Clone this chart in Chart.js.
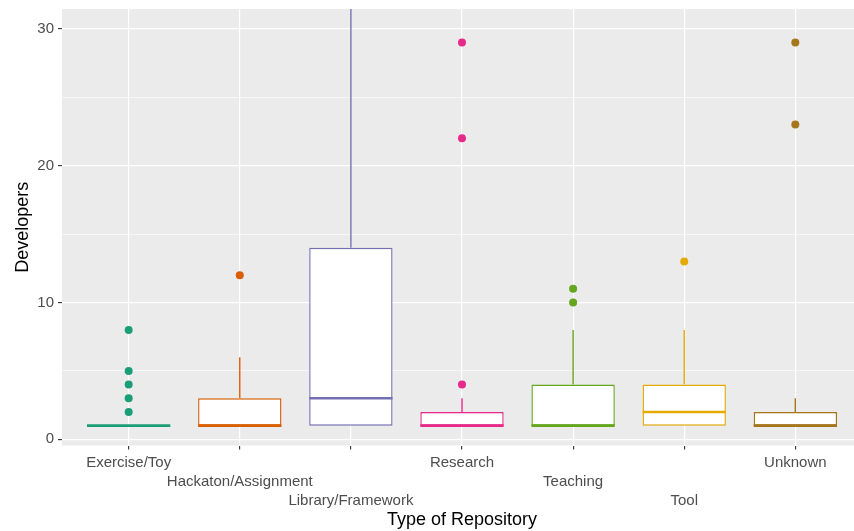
<!DOCTYPE html>
<html>
<head>
<meta charset="utf-8">
<title>Developers by Type of Repository</title>
<script src="https://cdn.jsdelivr.net/npm/chart.js@4.4.1/dist/chart.umd.min.js"></script>
<style>
  html, body { margin: 0; padding: 0; background: #ffffff; overflow: hidden; width: 854px; height: 531px; }
  /* the panel runs a little past the right edge of the page, as in the printed figure */
  #wrap { width: 866px; height: 531px; position: relative; }
</style>
</head>
<body>
<div id="wrap"><canvas id="chart"></canvas></div>
<script>
// ---- data -------------------------------------------------------------
const categories = ['Exercise/Toy', 'Hackaton/Assignment', 'Library/Framework', 'Research', 'Teaching', 'Tool', 'Unknown'];
const lowerWhisker = [1, 1, 1, 1, 1, 1, 1];
const q1           = [1, 1, 1, 1, 1, 1, 1];
const median       = [1, 1, 3, 1, 1, 2, 1];
const q3           = [1, 3, 14, 2, 4, 4, 2];
const upperWhisker = [1, 6, 33, 3, 8, 8, 3];
const outliers     = [[2, 3, 4, 5, 8], [12], [], [4, 22, 29], [10, 11], [13], [23, 29]];
const yMajorTicks  = [0, 10, 20, 30];
const yMinorTicks  = [5, 15, 25];

// ---- style ------------------------------------------------------------
const palette = ['#1B9E77', '#D95F02', '#7570B3', '#E7298A', '#66A61E', '#E6AB02', '#A6761D'];
const BOX_WIDTH = 0.75;          // in category units
const FONT = "'Liberation Sans', Arial, Helvetica, sans-serif";
const TEXT_GREY = '#4D4D4D';

// ---- datasets ---------------------------------------------------------
const datasets = [];

// outlying points (drawn on top)
const outlierPoints = [];
const outlierColors = [];
categories.forEach((c, i) => {
  outliers[i].forEach(v => { outlierPoints.push({ x: i + 1, y: v }); outlierColors.push(palette[i]); });
});
datasets.push({
  type: 'scatter',
  data: outlierPoints,
  pointBackgroundColor: outlierColors,
  pointBorderWidth: 0,
  pointRadius: 4,
  order: 0
});

// median bars
categories.forEach((c, i) => {
  datasets.push({
    type: 'line',
    data: [{ x: i + 1 - BOX_WIDTH / 2, y: median[i] }, { x: i + 1 + BOX_WIDTH / 2, y: median[i] }],
    borderColor: palette[i],
    borderWidth: 2.6,
    borderCapStyle: 'butt',
    pointRadius: 0,
    fill: false,
    order: 1
  });
});

// boxes from first to third quartile
datasets.push({
  type: 'bar',
  data: categories.map((c, i) => ({ x: i + 1, y: [q1[i], q3[i]] })),
  backgroundColor: '#ffffff',
  borderColor: palette,
  borderWidth: 1.4,
  borderSkipped: false,
  barPercentage: BOX_WIDTH,
  categoryPercentage: 1,
  grouped: false,
  order: 2
});

// whiskers
categories.forEach((c, i) => {
  datasets.push({
    type: 'line',
    data: [
      { x: i + 1, y: lowerWhisker[i] }, { x: i + 1, y: q1[i] },
      { x: i + 1, y: null },
      { x: i + 1, y: q3[i] }, { x: i + 1, y: upperWhisker[i] }
    ],
    spanGaps: false,
    borderColor: palette[i],
    borderWidth: 1.4,
    pointRadius: 0,
    fill: false,
    order: 3
  });
});

// grey panel behind the plot
const panelBackground = {
  id: 'panelBackground',
  beforeDraw(chart) {
    const { ctx, chartArea: a } = chart;
    ctx.save();
    ctx.fillStyle = '#EBEBEB';
    ctx.fillRect(a.left, a.top, a.right - a.left, a.bottom - a.top);
    ctx.restore();
  }
};

// keep the plot panel exactly where the layout padding puts it
const noLabelPadding = s => { s.paddingTop = 0; s.paddingBottom = 0; s.paddingLeft = 0; s.paddingRight = 0; };

new Chart(document.getElementById('chart'), {
  type: 'bar',
  data: { datasets },
  plugins: [panelBackground],
  options: {
    responsive: true,
    maintainAspectRatio: false,
    devicePixelRatio: 1,
    animation: false,
    layout: { padding: { top: 9, left: 0, right: 0, bottom: 0 } },
    plugins: { legend: { display: false }, tooltip: { enabled: false } },
    scales: {
      x: {
        type: 'linear',
        min: 0.4,
        max: categories.length + 0.6,
        offset: false,
        afterBuildTicks: s => { s.ticks = categories.map((c, i) => ({ value: i + 1 })); },
        afterFit: s => { s.height = 85.5; noLabelPadding(s); },
        border: { display: false },
        grid: { offset: false, color: '#FFFFFF', lineWidth: 1.2, tickLength: 4, tickColor: '#333333', tickWidth: 1.1 },
        ticks: {
          autoSkip: false,
          maxRotation: 0,
          minRotation: 0,
          padding: 4,
          color: TEXT_GREY,
          font: { family: FONT, size: 15, lineHeight: 1.25 },
          callback: (v, idx) => {
            const i = Math.round(v) - 1;
            const lines = [];
            for (let k = 0; k < i % 3; k++) lines.push('');
            lines.push(categories[i]);
            return lines;
          }
        },
        title: {
          display: true,
          text: 'Type of Repository',
          color: '#000000',
          font: { family: FONT, size: 18, lineHeight: 1.2 },
          padding: { top: 0, bottom: 0 }
        }
      },
      y: {
        type: 'linear',
        min: -0.45,
        max: 31.45,
        afterBuildTicks: s => {
          s.ticks = yMajorTicks.concat(yMinorTicks).sort((a, b) => a - b).map(v => ({ value: v }));
        },
        afterFit: s => { s.width = 62; noLabelPadding(s); },
        border: { display: false },
        grid: {
          color: '#FFFFFF',
          lineWidth: ctx => (yMajorTicks.includes(ctx.tick && ctx.tick.value) ? 1.2 : 0.6),
          tickLength: 4,
          tickWidth: 1.1,
          tickColor: ctx => (yMajorTicks.includes(ctx.tick && ctx.tick.value) ? '#333333' : 'rgba(0,0,0,0)')
        },
        ticks: {
          padding: 4,
          color: TEXT_GREY,
          font: { family: FONT, size: 15 },
          callback: v => (yMajorTicks.includes(v) ? String(v) : '')
        },
        title: {
          display: true,
          text: 'Developers',
          color: '#000000',
          font: { family: FONT, size: 18, lineHeight: 1.2 },
          padding: { top: 12, bottom: 0 }
        }
      }
    }
  }
});
</script>
</body>
</html>
